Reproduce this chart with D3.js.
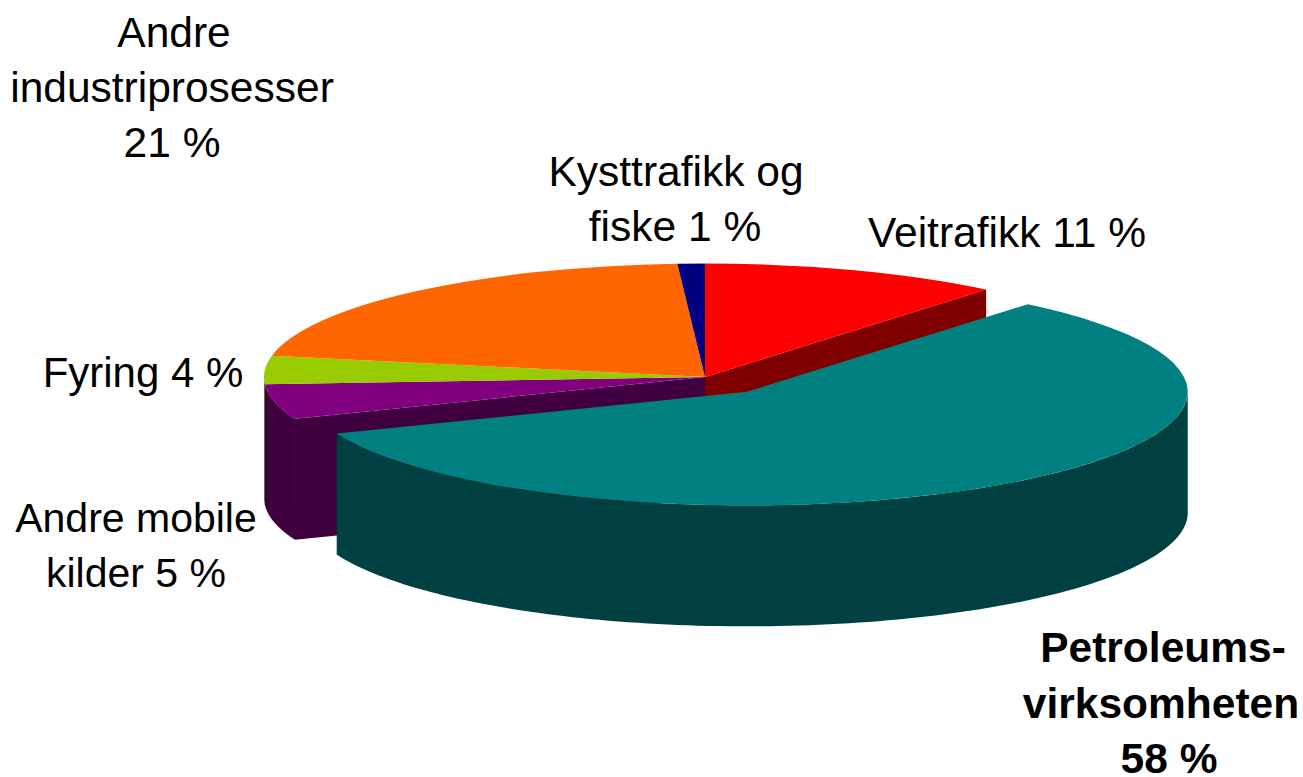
<!DOCTYPE html>
<html>
<head>
<meta charset="utf-8">
<script src="https://cdn.jsdelivr.net/npm/d3@7"></script>
<style>
  html, body { margin: 0; padding: 0; background: #ffffff; }
</style>
</head>
<body>
<div id="pie"></div>
<script>
// data, clockwise from twelve o'clock
const sectors = ["Veitrafikk", "Petroleumsvirksomheten", "Andre mobile kilder", "Fyring", "Andre industriprosesser", "Kysttrafikk og fiske"];
const shares = [11, 58, 5, 4, 21, 1];
const topColors = ["#ff0000", "#008080", "#800080", "#99cc00", "#ff6600", "#000080"];
const sideColors = ["#800000", "#004040", "#400040", "#4d6600", "#803300", "#000040"];
const labelLines = [
  ["Veitrafikk 11 %"],
  ["Petroleums-", "virksomheten", "58 %"],
  ["Andre mobile", "kilder 5 %"],
  ["Fyring 4 %"],
  ["Andre", "industriprosesser", "21 %"],
  ["Kysttrafikk og", "fiske 1 %"]
];

// layout
const width = 1303;
const height = 777;
const cx = 705;
const cy = 377;
const radius = 441;
const tilt = 0.2575;
const depth = 121;
const explode = 71; // pull of the big slice, in pie units
const labelPos = [
  { x: [1007], y: 247, size: 42.5, pitch: 55 },
  { x: [1163, 1161, 1169], y: 662, size: 42.5, pitch: 55.5 },
  { x: [136, 136], y: 532, size: 41, pitch: 55 },
  { x: [143], y: 387, size: 42, pitch: 55 },
  { x: [174, 172, 172], y: 47, size: 42.5, pitch: 55 },
  { x: [676, 675], y: 186, size: 42.5, pitch: 55 }
];

const svg = d3.select("#pie")
  .append("svg")
  .attr("width", width)
  .attr("height", height)
  .style("display", "block")
  .style("background", "#ffffff");

const slices = d3.pie().sort(null).value(d => d)(shares)
  .map((s, i) => ({ ...s, i, off: i === 1 ? explode : 0 }));

// pie plane to screen
function px(s, a, r) {
  const mid = (s.startAngle + s.endAngle) / 2;
  return cx + Math.sin(mid) * s.off + Math.sin(a) * r;
}
function py(s, a, r) {
  const mid = (s.startAngle + s.endAngle) / 2;
  return cy + (-Math.cos(mid) * s.off - Math.cos(a) * r) * tilt;
}

const arc = d3.arc().innerRadius(0).outerRadius(radius);
const wallArea = d3.area().x(d => d.x).y0(d => d.y).y1(d => d.y + depth);

// outer wall, only the part that faces the viewer
function drawWall(s) {
  const a0 = Math.max(s.startAngle, Math.PI / 2);
  const a1 = Math.min(s.endAngle, Math.PI * 1.5);
  if (a1 <= a0) return;
  const pts = d3.range(0, 121).map(k => {
    const a = a0 + (a1 - a0) * k / 120;
    return { x: px(s, a, radius), y: py(s, a, radius) };
  });
  svg.append("path").attr("d", wallArea(pts)).attr("fill", sideColors[s.i]);
}

// flat cut face from the centre to the rim
function drawCut(s, a) {
  const pts = [
    { x: px(s, a, 0), y: py(s, a, 0) },
    { x: px(s, a, radius), y: py(s, a, radius) }
  ];
  svg.append("path").attr("d", wallArea(pts)).attr("fill", sideColors[s.i]);
}

function drawTop(s) {
  const mid = (s.startAngle + s.endAngle) / 2;
  svg.append("path")
    .attr("d", arc(s))
    .attr("fill", topColors[s.i])
    .attr("transform", `translate(${cx + Math.sin(mid) * s.off}, ${cy - Math.cos(mid) * s.off * tilt}) scale(1, ${tilt})`);
}

// back pieces first, the pulled out slice goes last
drawCut(slices[0], slices[0].endAngle);
drawCut(slices[2], slices[2].startAngle);
slices.forEach(s => { if (s.i !== 1) drawWall(s); });
slices.forEach(s => { if (s.i !== 1) drawTop(s); });
drawWall(slices[1]);
drawTop(slices[1]);

// labels
labelLines.forEach((lines, i) => {
  const t = svg.append("text")
    .attr("text-anchor", "middle")
    .style("font-family", "'Liberation Sans', Arial, sans-serif")
    .style("font-size", labelPos[i].size + "px")
    .style("font-weight", i === 1 ? "bold" : "normal")
    .attr("fill", "#000000");
  lines.forEach((line, k) => {
    t.append("tspan")
      .attr("x", labelPos[i].x[k])
      .attr("y", labelPos[i].y + k * labelPos[i].pitch)
      .text(line);
  });
});
</script>
</body>
</html>
